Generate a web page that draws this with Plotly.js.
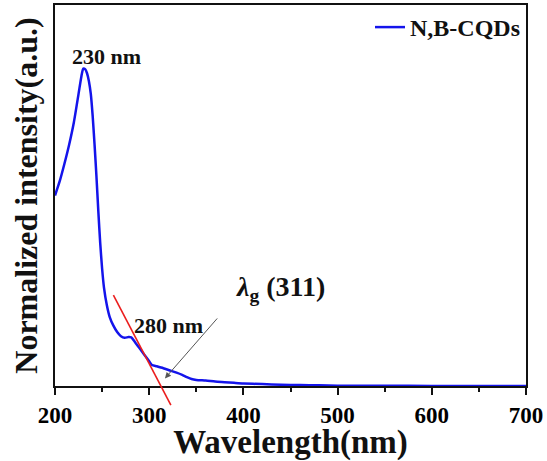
<!DOCTYPE html>
<html>
<head>
<meta charset="utf-8">
<script src="https://cdn.plot.ly/plotly-3.0.1.min.js"></script>
<style>
html,body{margin:0;padding:0;background:#fff;}
#chart{width:547px;height:461px;}
#chart .xtick text, #chart .xtick tspan { font-weight: 700 !important; }
</style>
</head>
<body>
<div id="chart"></div>
<script>
// Wavelength (nm)
var wavelength = [200,205,210,215,220,225,228,230,232,234,236,238,240,242,244,246,248,250,252,255,258,262,266,270,274,278,281,285,290,295,300,303,308,315,322,329,335,340,345,350,360,370,380,390,400,420,440,460,480,500,550,600,650,700];
// Normalized intensity (a.u.)
var intensity = [0.60,0.645,0.70,0.76,0.83,0.92,0.975,1.0,0.998,0.985,0.96,0.92,0.85,0.76,0.66,0.55,0.45,0.37,0.31,0.255,0.218,0.19,0.17,0.157,0.152,0.154,0.153,0.138,0.118,0.098,0.078,0.066,0.062,0.056,0.049,0.042,0.035,0.028,0.022,0.019,0.017,0.014,0.012,0.010,0.008,0.006,0.004,0.003,0.002,0.001,0.0005,0.0003,0.0002,0.0001];
var seriesName = "N,B-CQDs";
var xTicks = [200,300,400,500,600,700];
var yRange = [0, 1.2];
// Tangent line endpoints (wavelength, intensity)
var tangentX = [262, 323];
var tangentY = [0.286, -0.06];
// Peak labels
var peakLabels = ["230 nm", "280 nm"];
var peakLabelX = [254.5, 321];
var peakLabelY = [1.039, 0.191];
// Band-gap wavelength label and arrow (tail, head)
var gapLabel = "<i>λ</i><sub>g</sub> (311)";
var gapLabelPos = [439, 0.308];
var gapArrowTail = [377, 0.229];
var gapArrowHead = [316.7, 0.024];

var serif = "Liberation Serif";

var trace = {
  x: wavelength, y: intensity, type: "scatter", mode: "lines",
  name: "<b>" + seriesName + "</b>",
  line: {color: "rgb(20,20,235)", width: 2.5, shape: "spline", smoothing: 0.6}
};

var annotations = [];
for (var i = 0; i < peakLabels.length; i++) {
  annotations.push({x: peakLabelX[i], y: peakLabelY[i], xref: "x", yref: "y",
    text: "<b>" + peakLabels[i] + "</b>", showarrow: false, xanchor: "center", yanchor: "middle",
    font: {family: serif, size: 22, color: "#111"}});
}
annotations.push({x: gapLabelPos[0], y: gapLabelPos[1], xref: "x", yref: "y",
  text: "<b>" + gapLabel + "</b>", showarrow: false, xanchor: "center", yanchor: "middle",
  font: {family: serif, size: 28, color: "#111"}});
annotations.push({x: gapArrowHead[0], y: gapArrowHead[1], xref: "x", yref: "y",
  ax: gapArrowTail[0], ay: gapArrowTail[1], axref: "x", ayref: "y",
  text: " ", showarrow: true, arrowhead: 2, arrowsize: 1.2, arrowwidth: 1, arrowcolor: "#555", standoff: 0});

// tangent line: x in data units, y converted to paper fraction of the y range (so it can run below the axis)
function yToPaper(v) { return (v - yRange[0]) / (yRange[1] - yRange[0]); }
var shapes = [{
  type: "line", xref: "x", yref: "paper",
  x0: tangentX[0], x1: tangentX[1], y0: yToPaper(tangentY[0]), y1: yToPaper(tangentY[1]),
  line: {color: "rgb(235,30,30)", width: 1.6}
}];

var layout = {
  width: 547, height: 461,
  margin: {l: 55, r: 21, t: 5, b: 75, pad: 0},
  paper_bgcolor: "#fff", plot_bgcolor: "#fff",
  font: {family: serif, size: 22, color: "#111", weight: "bold"},
  showlegend: true,
  legend: {x: 1, xanchor: "right", y: 1, yanchor: "top", bgcolor: "rgba(0,0,0,0)",
    font: {family: serif, size: 24, color: "#111", weight: "bold"}},
  xaxis: {
    range: [200, 700], tickvals: xTicks, ticktext: xTicks.map(String),
    ticks: "outside", ticklen: 7, tickwidth: 2, tickcolor: "#111",
    minor: {dtick: 50, ticks: "outside", ticklen: 4, tickwidth: 2, tickcolor: "#111"},
    showline: true, linecolor: "#111", linewidth: 2, mirror: true,
    showgrid: false, zeroline: false, automargin: false,
    tickfont: {family: serif, size: 23, color: "#000", weight: 700},
    title: {text: "<b>Wavelength(nm)</b>", standoff: 5, font: {family: serif, size: 33, color: "#111"}}
  },
  yaxis: {
    range: yRange, showticklabels: false, ticks: "",
    showline: true, linecolor: "#111", linewidth: 2, mirror: true,
    showgrid: false, zeroline: false, automargin: false,
    title: {text: "<b>Normalized intensity(a.u.)</b>", standoff: 6, font: {family: serif, size: 32, color: "#111"}}
  },
  shapes: shapes,
  annotations: annotations
};

Plotly.newPlot("chart", [trace], layout, {staticPlot: true, displayModeBar: false});
</script>
</body>
</html>
